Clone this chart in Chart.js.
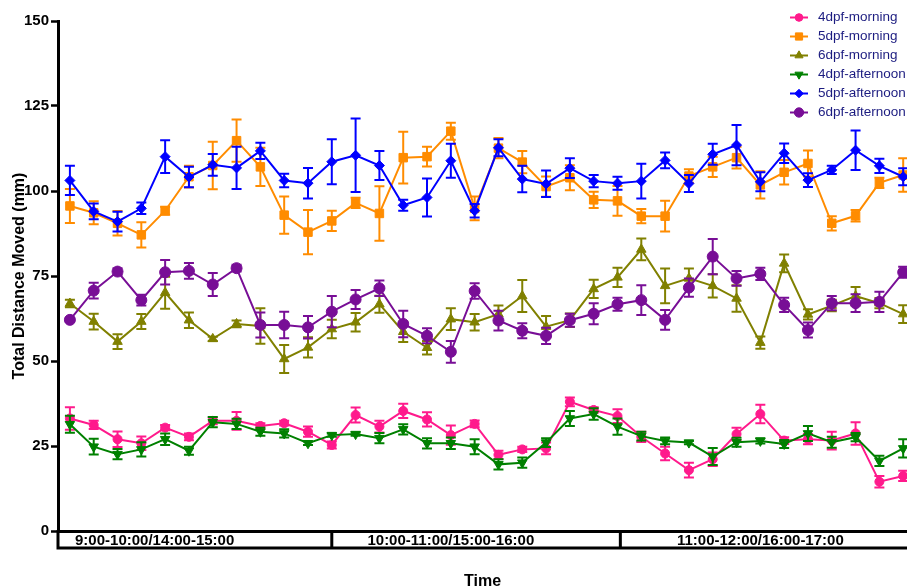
<!DOCTYPE html>
<html>
<head>
<meta charset="utf-8">
<script src="https://cdn.jsdelivr.net/npm/chart.js@4.4.1/dist/chart.umd.min.js"></script>
<style>
  html, body { margin: 0; padding: 0; background: #fff; }
</style>
</head>
<body>
<canvas id="chart" width="907" height="588"></canvas>
<script>
// --- Data ---
const slots = [1, 2, 3, 4, 5, 6, 7, 8, 9, 10, 11, 12, 13, 14, 15, 16, 17, 18,
               19, 20, 21, 22, 23, 24, 25, 26, 27, 28, 29, 30, 31, 32, 33, 34, 35, 36];

const hourGroups = ['9:00-10:00/14:00-15:00', '10:00-11:00/15:00-16:00', '11:00-12:00/16:00-17:00'];

const morning4 = [33.1, 31.2, 27.0, 25.8, 30.4, 27.7, 32.4, 32.4, 30.9, 31.7, 29.2, 25.3,
                  34.1, 30.7, 35.3, 32.8, 28.2, 31.5, 22.4, 24.0, 24.3, 38.0, 35.6, 33.8,
                  27.7, 22.8, 17.9, 21.1, 28.5, 34.4, 26.6, 27.0, 26.6, 28.7, 14.5, 16.2];
const morning4Err = [3.3, 1.2, 2.3, 2.0, 0.8, 1.0, 1.0, 2.6, 0.8, 0.7, 1.5, 1.0,
                     2.2, 1.7, 2.1, 2.1, 2.8, 1.0, 1.2, 0.8, 1.7, 1.3, 0.8, 2.0,
                     1.5, 2.0, 2.2, 2.0, 1.9, 2.7, 1.0, 1.5, 2.6, 3.3, 1.7, 1.5];

const morning5 = [95.6, 93.6, 90.5, 87.1, 94.2, 104.2, 107.5, 114.8, 107.1, 92.9, 87.9, 91.2,
                  96.5, 93.4, 109.8, 110.1, 117.6, 94.9, 112.6, 108.5, 101.3, 103.9, 97.4, 97.1,
                  92.6, 92.6, 104.4, 107.1, 109.8, 101.8, 105.5, 108.1, 90.5, 92.7, 102.4, 104.7];
const morning5Err = [5.0, 3.4, 3.6, 3.7, 1.2, 3.2, 7.0, 6.2, 5.6, 5.5, 6.5, 3.0,
                     1.5, 8.0, 7.6, 2.9, 2.5, 3.5, 3.0, 3.3, 3.0, 3.7, 2.4, 4.4,
                     2.1, 4.5, 2.0, 3.0, 3.2, 4.0, 3.6, 3.8, 2.1, 1.7, 1.5, 4.9];

const morning6 = [66.9, 61.6, 55.7, 61.6, 70.1, 62.0, 56.5, 60.9, 60.3, 50.6, 54.0, 59.4,
                  61.4, 66.7, 58.6, 53.9, 62.3, 61.4, 63.8, 69.1, 60.1, 62.0, 71.2, 74.6,
                  82.8, 72.1, 74.3, 72.1, 68.4, 55.4, 78.7, 63.7, 66.3, 69.1, 67.0, 63.8];
const morning6Err = [1.1, 2.3, 2.2, 2.2, 4.7, 2.3, 0.6, 1.0, 5.2, 4.1, 3.0, 2.7,
                     2.7, 2.5, 3.0, 2.0, 3.2, 2.4, 2.5, 4.7, 3.1, 2.0, 2.7, 2.8,
                     3.2, 5.1, 2.9, 3.4, 3.9, 1.8, 2.6, 1.5, 1.7, 2.7, 1.5, 2.6];

const afternoon4 = [31.4, 24.8, 22.6, 24.0, 27.0, 23.6, 32.0, 31.5, 29.2, 28.7, 25.8, 28.2,
                    28.5, 27.3, 29.9, 25.8, 25.8, 24.8, 19.6, 20.1, 26.0, 33.1, 34.4, 30.7,
                    27.9, 26.5, 26.0, 21.9, 26.1, 26.5, 25.6, 28.7, 26.1, 27.6, 20.6, 24.3];
const afternoon4Err = [2.5, 2.3, 1.5, 2.1, 1.7, 1.2, 1.5, 1.5, 1.2, 1.2, 0.5, 0.5,
                       0.5, 1.5, 1.5, 1.5, 1.7, 2.2, 1.5, 1.5, 1.3, 2.2, 1.7, 2.4,
                       1.3, 1.0, 0.5, 2.5, 1.3, 0.8, 1.2, 2.2, 1.6, 1.2, 1.5, 2.7];

const afternoon5 = [103.1, 94.0, 91.0, 94.9, 110.1, 104.1, 107.7, 106.8, 111.8, 103.1, 102.3, 108.6,
                    110.5, 107.5, 95.8, 98.1, 108.9, 94.2, 112.7, 103.5, 102.1, 106.7, 102.9, 102.3,
                    102.9, 109.0, 102.2, 110.8, 113.5, 102.7, 111.1, 103.2, 106.2, 112.0, 107.4, 104.2];
const afternoon5Err = [4.3, 2.3, 2.9, 1.7, 4.8, 3.0, 3.2, 6.2, 2.4, 2.0, 4.5, 6.6,
                       10.8, 4.3, 1.6, 5.6, 5.0, 2.0, 2.5, 3.9, 3.9, 2.9, 1.8, 1.9,
                       5.1, 2.3, 2.5, 3.1, 5.9, 2.8, 2.9, 2.0, 1.2, 5.8, 2.1, 2.5];

const afternoon6 = [62.1, 70.7, 76.3, 67.9, 76.1, 76.5, 72.5, 77.3, 60.6, 60.6, 59.9, 64.5,
                    68.1, 71.4, 60.9, 57.4, 52.7, 70.6, 61.9, 58.9, 57.4, 62.0, 63.9, 66.7,
                    67.9, 62.1, 71.6, 80.7, 74.3, 75.6, 66.5, 59.1, 67.0, 67.0, 67.4, 76.1];
const afternoon6Err = [0.6, 2.3, 1.0, 1.6, 3.6, 2.3, 3.4, 1.0, 3.7, 3.9, 3.3, 4.6,
                       2.8, 2.3, 3.9, 2.2, 3.2, 2.3, 2.9, 2.2, 2.4, 1.9, 3.1, 1.9,
                       4.4, 2.9, 2.7, 5.2, 2.2, 1.8, 2.1, 2.2, 2.1, 2.6, 3.0, 1.6];

const FONT = 'Arial, "Liberation Sans", sans-serif';

// label, values, errors, colour, marker, radius, rotation
const seriesDefs = [
    ['4dpf-morning', morning4, morning4Err, '#ff1a8c', 'circle', 4.5, 0],
    ['5dpf-morning', morning5, morning5Err, '#ff8c00', 'rect', 6, 0],
    ['6dpf-morning', morning6, morning6Err, '#808000', 'triangle', 5.5, 0],
    ['4dpf-afternoon', afternoon4, afternoon4Err, '#008000', 'triangle', 5.5, 180],
    ['5dpf-afternoon', afternoon5, afternoon5Err, '#0000ff', 'rectRot', 5, 0],
    ['6dpf-afternoon', afternoon6, afternoon6Err, '#780e96', 'circle', 5.5, 0]
];

const datasets = seriesDefs.map(([label, values, errs, color, style, r, rot], k) => ({
    label: label,
    data: values.map((v, i) => ({ x: slots[i], y: v })),
    errors: errs,
    borderColor: color,
    backgroundColor: color,
    borderWidth: 2,
    pointStyle: style,
    pointRadius: r,
    pointRotation: rot,
    pointBorderWidth: 1,
    tension: 0,
    clip: false,
    order: seriesDefs.length - k   // later series drawn on top
}));

// --- Plugins ---

// mean +/- SEM whiskers, drawn under each series' line
const errorBars = {
    id: 'errorBars',
    beforeDatasetDraw(chart, args) {
        const ds = chart.data.datasets[args.index];
        const yScale = chart.scales.y;
        const ctx = chart.ctx;
        ctx.save();
        ctx.strokeStyle = ds.borderColor;
        ctx.lineWidth = 2;
        ctx.beginPath();
        args.meta.data.forEach((pt, i) => {
            const e = ds.errors[i];
            const v = ds.data[i].y;
            const yt = yScale.getPixelForValue(v + e);
            const yb = yScale.getPixelForValue(v - e);
            ctx.moveTo(pt.x, yt); ctx.lineTo(pt.x, yb);
            ctx.moveTo(pt.x - 5, yt); ctx.lineTo(pt.x + 5, yt);
            ctx.moveTo(pt.x - 5, yb); ctx.lineTo(pt.x + 5, yb);
        });
        ctx.stroke();
        ctx.restore();
    }
};

// hour blocks under the x axis
const groupBox = {
    id: 'groupBox',
    afterDraw(chart, args, opts) {
        const { ctx, chartArea, scales: { x } } = chart;
        const top = chartArea.bottom;
        const bottom = top + 17;
        ctx.save();
        ctx.strokeStyle = '#000';
        ctx.lineWidth = 3;
        ctx.beginPath();
        ctx.moveTo(chartArea.left, top - 1);
        ctx.lineTo(chartArea.left, bottom);
        ctx.lineTo(chart.width + 5, bottom);
        opts.dividers.forEach(d => {
            const px = x.getPixelForValue(d);
            ctx.moveTo(px, top);
            ctx.lineTo(px, bottom);
        });
        ctx.stroke();
        ctx.fillStyle = '#000';
        ctx.font = 'bold 15px ' + FONT;
        ctx.textAlign = 'center';
        ctx.textBaseline = 'middle';
        hourGroups.forEach((t, i) => {
            ctx.fillText(t, x.getPixelForValue(opts.labelAt[i]), (top + bottom) / 2 + 1);
        });
        ctx.restore();
    }
};

// line + marker legend in the top right corner
const markerLegend = {
    id: 'markerLegend',
    afterDraw(chart, args, opts) {
        const ctx = chart.ctx;
        ctx.save();
        ctx.font = '13.5px ' + FONT;
        ctx.textBaseline = 'middle';
        ctx.textAlign = 'left';
        chart.data.datasets.forEach((ds, i) => {
            const y = opts.top + i * opts.step;
            ctx.strokeStyle = ds.borderColor;
            ctx.fillStyle = ds.backgroundColor;
            ctx.lineWidth = 2;
            ctx.beginPath();
            ctx.moveTo(opts.left, y);
            ctx.lineTo(opts.left + 18, y);
            ctx.stroke();
            ctx.lineWidth = 1;
            Chart.helpers.drawPoint(ctx, {
                pointStyle: ds.pointStyle,
                radius: ds.pointRadius * 0.85,
                rotation: ds.pointRotation,
                borderWidth: 1
            }, opts.left + 9, y);
            ctx.fillStyle = opts.color;
            ctx.fillText(ds.label, opts.left + 28, y);
        });
        ctx.restore();
    }
};

new Chart(document.getElementById('chart'), {
    type: 'line',
    data: { datasets: datasets },
    options: {
        responsive: false,
        animation: false,
        devicePixelRatio: 1,
        layout: { autoPadding: false, padding: { top: 21, right: 0, bottom: 0, left: 0 } },
        plugins: {
            legend: { display: false },
            tooltip: { enabled: false },
            groupBox: { dividers: [12, 24.12], labelAt: [4.56, 17.0, 30.0] },
            markerLegend: { left: 790, top: 17.5, step: 19, color: '#1c1c80' }
        },
        scales: {
            x: {
                type: 'linear',
                min: 0.5,
                max: 36.16,
                ticks: { display: false },
                grid: { display: false, drawTicks: false },
                border: { display: true, color: '#000', width: 3 },
                title: {
                    display: true,
                    text: 'Time',
                    color: '#000',
                    font: { family: FONT, size: 16, weight: 'bold', lineHeight: 0.8 },
                    padding: { top: 0, bottom: 0 }
                },
                afterFit: s => { s.height = 57; }
            },
            y: {
                min: 0,
                max: 150,
                ticks: {
                    stepSize: 25,
                    color: '#000',
                    padding: 2,
                    font: { family: FONT, size: 15, weight: 'bold' }
                },
                grid: { drawOnChartArea: false, tickLength: 7, tickWidth: 2.5, tickColor: '#000' },
                border: { color: '#000', width: 3 },
                title: {
                    display: true,
                    text: 'Total Distance Moved (mm)',
                    color: '#000',
                    font: { family: FONT, size: 16, weight: 'bold' },
                    padding: { top: 10, bottom: 0 }
                },
                afterFit: s => { s.width = 58; }
            }
        }
    },
    plugins: [errorBars, groupBox, markerLegend]
});
</script>
</body>
</html>
